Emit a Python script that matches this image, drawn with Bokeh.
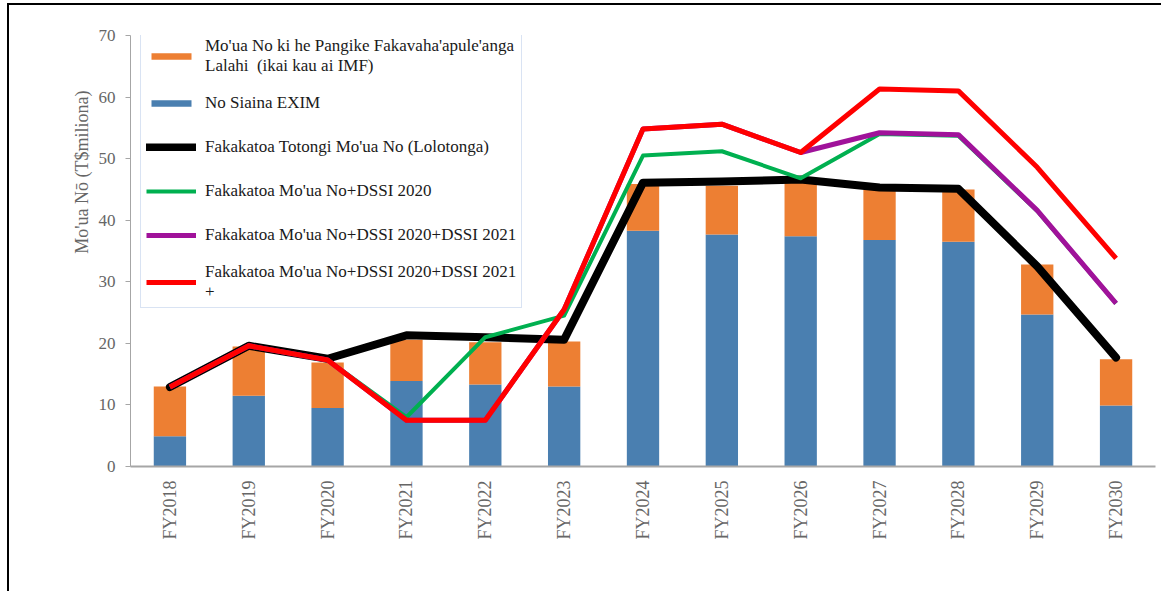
import math
from bokeh.plotting import figure
from bokeh.models import ColumnDataSource, FactorRange, Range1d, Legend, LegendItem, Title, FixedTicker
from bokeh.embed import file_html
from bokeh.resources import INLINE

categories = ["FY2018", "FY2019", "FY2020", "FY2021", "FY2022", "FY2023", "FY2024",
              "FY2025", "FY2026", "FY2027", "FY2028", "FY2029", "FY2030"]
exim = [4.9, 11.5, 9.5, 13.9, 13.3, 13.0, 38.3, 37.7, 37.4, 36.8, 36.5, 24.7, 9.9]
multilateral = [8.1, 8.0, 7.4, 6.7, 6.9, 7.3, 7.6, 7.9, 9.0, 8.2, 8.5, 8.1, 7.5]
total_service = [12.9, 19.6, 17.5, 21.3, 21.0, 20.6, 46.1, 46.3, 46.6, 45.3, 45.1, 32.5, 17.7]
dssi2020 = [12.9, 19.6, 17.3, 8.0, 21.0, 24.5, 50.5, 51.2, 46.8, 54.0, 53.7, 41.5, 26.5]
dssi2021 = [12.9, 19.6, 17.3, 7.5, 7.5, 25.5, 54.8, 55.6, 51.0, 54.2, 53.9, 41.6, 26.5]
dssi2021_plus = [12.9, 19.6, 17.3, 7.5, 7.5, 25.5, 54.8, 55.6, 51.0, 61.3, 61.0, 48.6, 33.8]

labels = [
    "Mo'ua No ki he Pangike Fakavaha'apule'anga\nLalahi  (ikai kau ai IMF)",
    "No Siaina EXIM",
    "Fakakatoa Totongi Mo'ua No (Lolotonga)",
    "Fakakatoa Mo'ua No+DSSI 2020",
    "Fakakatoa Mo'ua No+DSSI 2020+DSSI 2021",
    "Fakakatoa Mo'ua No+DSSI 2020+DSSI 2021\n+",
]
y_title = "Mo'ua Nō (T$miliona)"

src = ColumnDataSource(dict(cat=categories, exim=exim, multi=multilateral, tot=total_service,
                            d20=dssi2020, d21=dssi2021, d21p=dssi2021_plus))

BLUE = "#4a7fb0"
ORANGE = "#ed7f33"
GREEN = "#00b050"
PURPLE = "#a0129a"
RED = "#ff0000"
SERIF = "Liberation Serif"

p = figure(x_range=FactorRange(factors=categories, range_padding=0), y_range=Range1d(0, 70),
           width=1154, height=588, output_backend="svg", toolbar_location=None,
           min_border_left=121, min_border_right=8, min_border_top=30, min_border_bottom=127)
p.styles = {"border-top": "2px solid black", "border-left": "2px solid black",
            "margin-left": "7px", "margin-top": "3px"}
p.outline_line_color = None
p.xgrid.grid_line_color = None
p.ygrid.grid_line_color = None

bars = p.vbar_stack(["exim", "multi"], x="cat", width=0.41, color=[BLUE, ORANGE],
                    line_color=None, source=src)
r_black = p.line("cat", "tot", source=src, color="black", line_width=8, line_join="round", line_cap="round")
r_green = p.line("cat", "d20", source=src, color=GREEN, line_width=4, line_join="round")
r_purple = p.line("cat", "d21", source=src, color=PURPLE, line_width=5, line_join="round")
r_red = p.line("cat", "d21p", source=src, color=RED, line_width=5, line_join="round")

# axes
p.yaxis.ticker = FixedTicker(ticks=list(range(0, 71, 10)))
p.yaxis.axis_line_color = "#a6a6a6"
p.yaxis.major_tick_line_color = "#a6a6a6"
p.yaxis.major_tick_out = 5
p.yaxis.major_tick_in = 0
p.yaxis.minor_tick_line_color = None
p.yaxis.major_label_text_font = SERIF
p.yaxis.major_label_text_font_size = "17px"
p.yaxis.major_label_text_color = "#666666"
p.yaxis.major_label_standoff = 10

p.xaxis.axis_line_color = "#a6a6a6"
p.xaxis.axis_line_width = 2
p.xaxis.major_tick_line_color = None
p.xaxis.major_label_orientation = math.pi / 2
p.xaxis.major_label_text_font = SERIF
p.xaxis.major_label_text_font_size = "18px"
p.xaxis.major_label_text_color = "#666666"
p.xaxis.major_label_standoff = 8

title = Title(text=y_title, align="right", offset=55, standoff=8,
              text_font=SERIF, text_font_size="18px", text_font_style="normal",
              text_color="#666666")
p.add_layout(title, "left")

legend = Legend(items=[
    LegendItem(label=labels[0], renderers=[bars[1]]),
    LegendItem(label=labels[1], renderers=[bars[0]]),
    LegendItem(label=labels[2], renderers=[r_black]),
    LegendItem(label=labels[3], renderers=[r_green]),
    LegendItem(label=labels[4], renderers=[r_purple]),
    LegendItem(label=labels[5], renderers=[r_red]),
], location=(10, 158))
legend.padding = 5
legend.glyph_width = 50
legend.glyph_height = 8
legend.label_standoff = 9
legend.label_height = 34
legend.spacing = 10
legend.label_text_font = SERIF
legend.label_text_font_size = "17px"
legend.label_text_line_height = 1.0
legend.label_text_color = "#1a1a1a"
legend.border_line_color = "#b4c7e7"
legend.background_fill_color = "white"
legend.background_fill_alpha = 1
p.add_layout(legend)

open("out.html", "w").write(file_html(p, INLINE))
